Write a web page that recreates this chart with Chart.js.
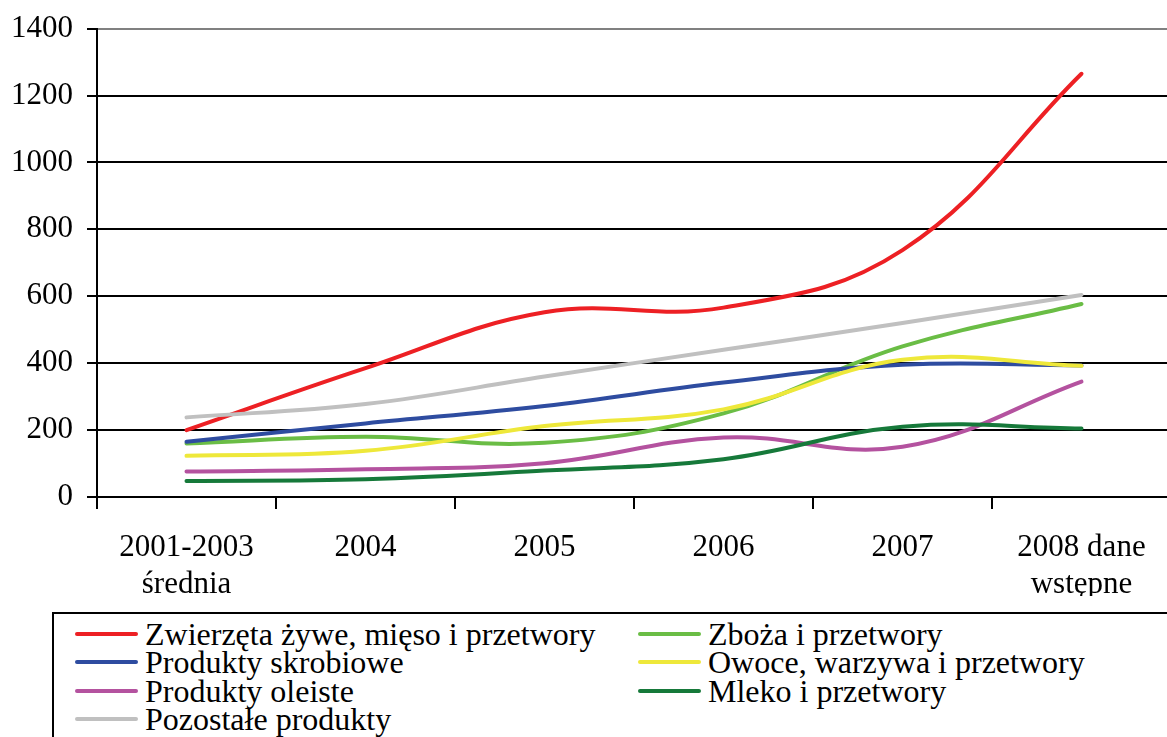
<!DOCTYPE html>
<html lang="pl">
<head>
<meta charset="utf-8">
<title>Eksport produktów rolno-spożywczych</title>
<script src="https://cdn.jsdelivr.net/npm/chart.js@4/dist/chart.umd.min.js"></script>
<style>
  html,body{margin:0;padding:0;background:#fff;overflow:hidden;width:1167px;height:737px;}
  #wrap{position:relative;width:1167px;height:737px;overflow:hidden;}
  #c{position:absolute;left:0;top:-4px;}
  #legend{position:absolute;left:52px;top:612px;width:1200px;height:200px;border:2.5px solid #000;
    box-sizing:border-box;padding:6px 0 0 21px;display:grid;grid-template-columns:563px auto;
    align-content:start;grid-auto-rows:28.3px;
    font-family:"Liberation Serif","Times New Roman",serif;font-size:32px;line-height:28.3px;color:#000;}
  #legend .item{display:flex;align-items:center;white-space:nowrap;height:28.3px;}
  #legend .sw{display:inline-block;width:63px;height:4px;border-radius:2px;margin-right:7px;}
</style>
</head>
<body>
<div id="wrap">
  <canvas id="c" width="1180" height="600"></canvas>
  <div id="legend"></div>
</div>
<script>
// categories
const labels = [['2001-2003','średnia'],'2004','2005','2006','2007',['2008 dane','wstępne']];

// series (legend order)
const names = ['Zwierzęta żywe, mięso i przetwory','Zboża i przetwory','Produkty skrobiowe',
  'Owoce, warzywa i przetwory','Produkty oleiste','Mleko i przetwory','Pozostałe produkty'];
const zwierzeta = [200, 385, 552, 566, 738, 1265];
const zboza     = [160, 180, 162, 250, 450, 577];
const skrobiowe = [165, 220, 272, 342, 395, 393];
const owoce     = [123, 138, 212, 262, 410, 392];
const oleiste   = [76, 83, 101, 178, 150, 345];
const mleko     = [48, 53, 79, 113, 210, 205];
const pozostale = [238, 278, 360, 440, 520, 604];
const colors = ['#ED2024','#6ABD45','#2E4CA0','#EEE83A','#B4529F','#16793A','#C0C0C0'];

const yTicks = [0,200,400,600,800,1000,1200,1400];

const series = [zwierzeta, zboza, skrobiowe, owoce, oleiste, mleko, pozostale];
const FONT = { family: '"Liberation Serif","Times New Roman",serif', size: 31 };

const datasets = series.map((d,i)=>({
  label: names[i], data: d, borderColor: colors[i], backgroundColor: colors[i],
  borderWidth: 4, pointRadius: 0, tension: 0.4, fill: false, order: series.length - i,
  borderCapStyle: 'round'
}));

const chart = new Chart(document.getElementById('c').getContext('2d'), {
  type: 'line',
  data: { labels, datasets },
  options: {
    responsive: false, animation: false, devicePixelRatio: 1,
    layout: { padding: { top: 25, right: 9, left: 0, bottom: 0 } },
    plugins: { legend: { display: false }, tooltip: { enabled: false } },
    scales: {
      x: {
        offset: true,
        grid: { offset: true, drawOnChartArea: false, drawTicks: true, tickLength: 12, color: '#000', lineWidth: 2 },
        border: { display: true, color: '#000', width: 2 },
        ticks: { color: '#000', font: FONT, padding: 20, maxRotation: 0, autoSkip: false },
        afterFit: s => { s.height = 99; }
      },
      y: {
        min: 0, max: 1400,
        afterBuildTicks: s => { s.ticks = yTicks.map(v=>({ value: v })); },
        grid: { color: c => (c.tick && c.tick.value === 1400) ? '#808080' : '#000', lineWidth: 2, tickLength: 10,
                tickColor: '#000' },
        border: { display: true, color: '#000', width: 2 },
        ticks: { color: '#000', font: FONT, padding: 14, callback: v => String(v) },
        afterFit: s => { s.width = 97; }
      }
    }
  }
});

// HTML legend, two columns, row by row
const host = document.getElementById('legend');
chart.data.datasets.forEach(ds=>{
  const it = document.createElement('div'); it.className = 'item';
  it.innerHTML = `<span class="sw" style="background:${ds.borderColor}"></span><span>${ds.label}</span>`;
  host.appendChild(it);
});
</script>
</body>
</html>
